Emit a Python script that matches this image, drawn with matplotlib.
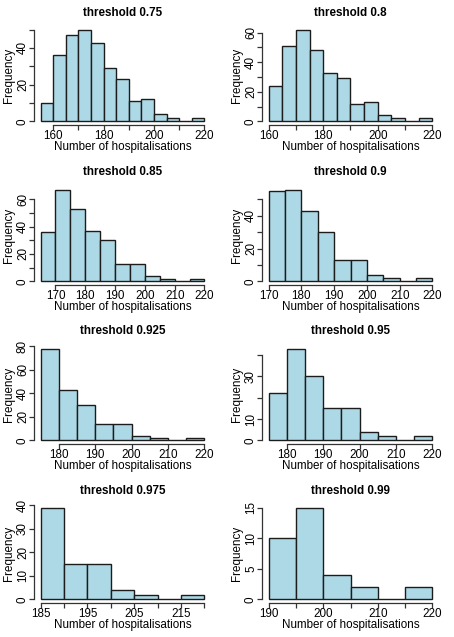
import matplotlib
matplotlib.use("Agg")
import matplotlib.pyplot as plt
import numpy as np

plt.rcParams['font.family'] = ['Liberation Sans', 'DejaVu Sans']

# ---- data ----
thresholds = ["0.75", "0.8", "0.85", "0.9", "0.925", "0.95", "0.975", "0.99"]
bin_width = 5
bin_starts = [155, 160, 165, 170, 175, 175, 185, 190]

counts_075 = [10, 36, 47, 50, 43, 29, 23, 11, 12, 4, 2, 0, 2]
counts_080 = [24, 51, 62, 48, 33, 29, 12, 13, 4, 2, 0, 2]
counts_085 = [36, 67, 53, 37, 30, 13, 13, 4, 2, 0, 2]
counts_090 = [55, 56, 43, 30, 13, 13, 4, 2, 0, 2]
counts_0925 = [78, 43, 30, 14, 14, 4, 2, 0, 2]
counts_095 = [22, 43, 30, 15, 15, 4, 2, 0, 2]
counts_0975 = [39, 15, 15, 4, 2, 0, 2]
counts_099 = [10, 15, 4, 2, 0, 2]
all_counts = [counts_075, counts_080, counts_085, counts_090,
              counts_0925, counts_095, counts_0975, counts_099]

xticks_list = [
    [160, 170, 180, 190, 200, 210, 220],
    [160, 170, 180, 190, 200, 210, 220],
    [170, 180, 190, 200, 210, 220],
    [170, 180, 190, 200, 210, 220],
    [180, 190, 200, 210, 220],
    [180, 190, 200, 210, 220],
    [185, 190, 195, 200, 205, 210, 215, 220],
    [190, 195, 200, 205, 210, 215, 220],
]
xlabels_list = [
    ["160", "", "180", "", "200", "", "220"],
    ["160", "", "180", "", "200", "", "220"],
    ["170", "180", "190", "200", "210", "220"],
    ["170", "180", "190", "200", "210", "220"],
    ["180", "190", "200", "210", "220"],
    ["180", "190", "200", "210", "220"],
    ["185", "", "195", "", "205", "", "215", ""],
    ["190", "", "200", "", "210", "", "220"],
]
yticks_list = [
    [0, 10, 20, 30, 40, 50],
    [0, 10, 20, 30, 40, 50, 60],
    [0, 10, 20, 30, 40, 50, 60],
    [0, 10, 20, 30, 40, 50],
    [0, 20, 40, 60, 80],
    [0, 10, 20, 30, 40],
    [0, 10, 20, 30, 40],
    [0, 5, 10, 15],
]
ylabels_list = [
    ["0", "", "20", "", "40", ""],
    ["0", "", "20", "", "40", "", "60"],
    ["0", "", "20", "", "40", "", "60"],
    ["0", "", "20", "", "40", ""],
    ["0", "20", "40", "60", "80"],
    ["0", "10", "", "30", ""],
    ["0", "10", "20", "30", "40"],
    ["0", "5", "10", "15"],
]
x_end = 220

# ---- layout ----
W, H = 454, 637
fig = plt.figure(figsize=(W / 100, H / 100), dpi=100)
col_left = [34 / W, 262 / W]
ax_w = 177 / W
ax_h = 99 / H
row_bottom = [1 - 125 / H, 1 - 285 / H, 1 - 444 / H, 1 - 603 / H]

fs = 8.4
fill = '#ADD8E6'
edge = '#1c1c1c'
axcol = '#333333'

for i, (thr, start, counts) in enumerate(zip(thresholds, bin_starts, all_counts)):
    r, c = divmod(i, 2)
    ax = fig.add_axes([col_left[c], row_bottom[r], ax_w, ax_h])
    lefts = start + bin_width * np.arange(len(counts))
    ax.bar(lefts, counts, width=bin_width, align='edge', color=fill,
           edgecolor=edge, linewidth=1.0)
    xr = x_end - start
    ax.set_xlim(start - 0.04 * xr, x_end + 0.04 * xr)
    ymax = max(counts)
    ax.set_ylim(-0.04 * ymax, 1.04 * ymax)
    ax.set_facecolor('white')
    for s in ['top', 'right']:
        ax.spines[s].set_visible(False)
    xt = xticks_list[i]
    yt = yticks_list[i]
    ax.spines['bottom'].set_bounds(xt[0], xt[-1])
    ax.spines['left'].set_bounds(yt[0], yt[-1])
    for s in ['bottom', 'left']:
        ax.spines[s].set_color(axcol)
        ax.spines[s].set_linewidth(0.9)
    ax.set_xticks(xt)
    ax.set_xticklabels(xlabels_list[i])
    ax.set_yticks(yt)
    ax.set_yticklabels(ylabels_list[i], rotation=90, va='center')
    ax.tick_params(axis='both', length=3.3, width=0.9, color=axcol,
                   labelsize=fs, labelcolor='black')
    ax.tick_params(axis='x', pad=0.5)
    ax.tick_params(axis='y', pad=0.3)
    ax.text(0.5, 1 + 13.5 / 99, f"threshold {thr}", transform=ax.transAxes,
            ha='center', va='center', fontsize=fs, fontweight='bold')
    ax.text(0.5, -22 / 99, "Number of hospitalisations", transform=ax.transAxes,
            ha='center', va='center', fontsize=fs)
    ax.text(-24.5 / 177, 0.5, "Frequency", transform=ax.transAxes,
            ha='center', va='center', rotation=90, fontsize=fs)

fig.savefig("out.png", dpi=100, facecolor='white')
